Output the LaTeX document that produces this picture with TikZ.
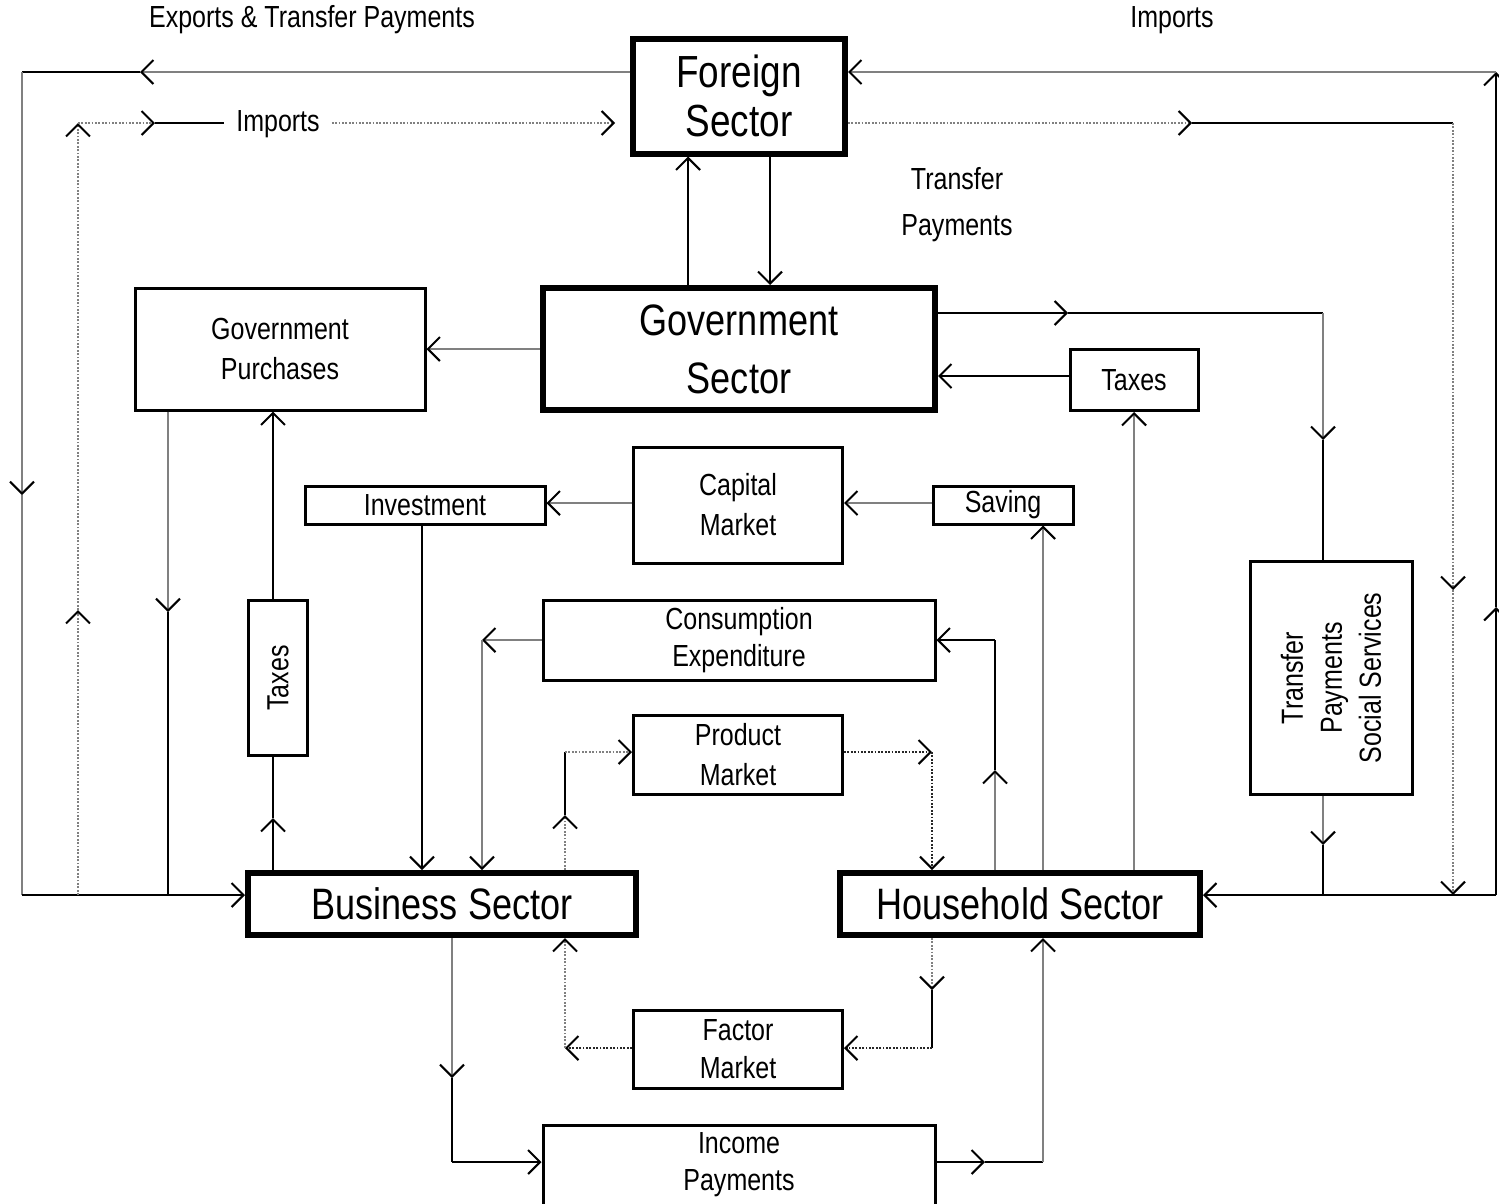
\documentclass[tikz,border=0pt]{standalone}
\usepackage{fontspec}
\setmainfont{Liberation Sans}[FakeStretch=0.82]
\usetikzlibrary{arrows.meta}
\begin{document}
\begin{tikzpicture}[x=1pt,y=-1pt,
  thickbox/.style={draw,line width=6pt,inner sep=0pt,align=center,font=\fontsize{44}{54}\selectfont},
  thinbox/.style={draw,line width=3pt,inner sep=0pt,align=center,font=\fontsize{30.5}{40}\selectfont},
  lbl/.style={inner sep=0pt,align=center,font=\fontsize{30.5}{46}\selectfont},
  line/.style={line width=2.3pt,black},
  gline/.style={line width=2.6pt,black!50},
  dline/.style={line width=2.4pt,black!50,dash pattern=on 1.8pt off 1.6pt},
  dlineb/.style={line width=2.4pt,black!85,dash pattern=on 1.8pt off 1.6pt},
  arr/.style={-{Straight Barb[length=12pt,width=24pt,line width=2.1pt,color=black]}}]
\useasboundingbox (0,0) rectangle (1499,1203);
\fill[white] (0,0) rectangle (1499,1203);

% ---------- nodes ----------
\node[thickbox,minimum width=212,minimum height=115,font=\fontsize{45}{49}\selectfont] (FS) at (739,96) {Foreign\\Sector};
\node[thickbox,minimum width=392,minimum height=122,font=\fontsize{44}{58}\selectfont] (GS) at (739,349) {Government\\Sector};
\node[thinbox,minimum width=290,minimum height=122] (GP) at (280,349) {Government\\Purchases};
\node[thinbox,minimum width=128,minimum height=61] (TX1) at (1134,380) {Taxes};
\node[thinbox,minimum width=209,minimum height=116] (CM) at (738,505) {Capital\\Market};
\node[thinbox,minimum width=240,minimum height=38] (INV) at (425,505) {Investment};
\node[thinbox,minimum width=140,minimum height=38] (SAV) at (1003,505) {\raisebox{-3pt}{Saving}};
\node[thinbox,minimum width=392,minimum height=80,font=\fontsize{30.5}{37}\selectfont] (CE) at (739,640) {Consumption\\Expenditure};
\node[thinbox,minimum width=209,minimum height=79] (PM) at (738,755) {Product\\Market};
\node[thinbox,minimum width=59,minimum height=155] (TX2) at (278,678) {};
\node[lbl,rotate=90] (TX2t) at (TX2.center) {Taxes};
\node[thinbox,minimum width=162,minimum height=233] (TP) at (1331,678) {};
\node[lbl,rotate=90,font=\fontsize{30.5}{39}\selectfont] (TPt) at (TP.center) {Transfer\\Payments\\Social Services};
\node[thickbox,minimum width=388,minimum height=62] (BS) at (442,904) {Business Sector};
\node[thickbox,minimum width=360,minimum height=62] (HS) at (1020,904) {Household Sector};
\node[thinbox,minimum width=209,minimum height=78,font=\fontsize{30.5}{38}\selectfont] (FM) at (738,1049) {Factor\\Market};
\node[thinbox,minimum width=392,minimum height=80,font=\fontsize{30.5}{37}\selectfont] (IP) at (739,1165) {Income\\Payments};

\node[lbl] (EX) at (312,20) {Exports \& Transfer Payments};
\node[lbl] (IMR) at (1172,20) {Imports};
\node[lbl,inner xsep=12pt] (IML) at (278,124) {Imports};
\node[lbl] (TRP) at (957,205) {Transfer\\Payments};

% ---------- coordinates ----------
\coordinate (c1) at (140,72);  \coordinate (c2) at (22,72);
\coordinate (c3) at (22,495);  \coordinate (c4) at (22,895);
\coordinate (d0) at (78,895);  \coordinate (d1) at (78,610);
\coordinate (d2) at (78,123);  \coordinate (d3) at (155,123);
\coordinate (d4) at (615,123);
\coordinate (r1) at (1496,895); \coordinate (r2) at (1496,607);
\coordinate (r3) at (1496,72);
\coordinate (f1) at (1192,123); \coordinate (f2) at (1453,123);
\coordinate (f3) at (1453,590); \coordinate (f4) at (1453,895);
\coordinate (g1) at (688,220);  \coordinate (g2) at (770,220);
\coordinate (t1) at (1000,376);
\coordinate (s1) at (1043,700);
\coordinate (m1) at (890,503);
\coordinate (i1) at (422,700);
\coordinate (p1) at (168,612);  \coordinate (p2) at (168,895);
\coordinate (q1) at (273,818);
\coordinate (h1) at (995,770);  \coordinate (h2) at (995,640);
\coordinate (k1) at (482,640);
\coordinate (u1) at (565,815);  \coordinate (u2) at (565,752);
\coordinate (v1) at (932,752);
\coordinate (w1) at (932,990);  \coordinate (w2) at (932,1048);
\coordinate (z1) at (565,1048);
\coordinate (b1) at (452,1078); \coordinate (b2) at (452,1162);
\coordinate (o1) at (985,1162); \coordinate (o2) at (1043,1162);
\coordinate (a1) at (1068,313); \coordinate (a2) at (1323,313);
\coordinate (a3) at (1323,440); \coordinate (a4) at (1323,845);
\coordinate (a5) at (1323,895);

% ---------- exports (left loop) ----------
\draw[gline,arr] (FS.west |- c1) -- (c1);
\draw[line] (c1) -- (c2);
\draw[gline,arr] (c2) -- (c3);
\draw[gline] (c3) -- (c4);
\draw[line,arr] (c4) -- (BS.west |- c4);

% ---------- imports (left, dotted) ----------
\draw[dline,arr] (d0) -- (d1);
\draw[dline,arr] (d1) -- (d2);
\draw[dline,arr] (d2) -- (d3);
\draw[line] (d3) -- (IML.west |- d3);
\draw[dline,arr] (IML.east |- d3) -- (d4);

% ---------- imports (right loop) ----------
\draw[line,arr] (r1) -- (HS.east |- r1);
\draw[line,arr] (r1) -- (r2);
\draw[line,arr] (r2) -- (r3);
\draw[gline,arr] (r3) -- (FS.east |- r3);

% ---------- foreign -> right dotted ----------
\draw[dline,arr] (FS.east |- f1) -- (f1);
\draw[line] (f1) -- (f2);
\draw[dline,arr] (f2) -- (f3);
\draw[dline,arr] (f3) -- (f4);

% ---------- government <-> foreign ----------
\draw[line,arr] (GS.north -| g1) -- (FS.south -| g1);
\draw[line,arr] (FS.south -| g2) -- (GS.north -| g2);

% ---------- government ----------
\draw[gline,arr] (GS.west) -- (GP.east);
\draw[line,arr] (TX1.west |- t1) -- (GS.east |- t1);
\draw[gline,arr] (HS.north -| TX1.south) -- (TX1.south);
\draw[line,arr] (GS.east |- a1) -- (a1);
\draw[line] (a1) -- (a2);
\draw[gline,arr] (a2) -- (a3);
\draw[line] (a3) -- (TP.north -| a3);
\draw[gline,arr] (TP.south -| a4) -- (a4);
\draw[line] (a4) -- (a5);

% ---------- capital market ----------
\draw[gline,arr] (HS.north -| s1) -- (SAV.south -| s1);
\draw[gline,arr] (SAV.west |- m1) -- (CM.east |- m1);
\draw[gline,arr] (CM.west |- m1) -- (INV.east |- m1);
\draw[line,arr] (INV.south -| i1) -- (BS.north -| i1);

% ---------- government purchases / taxes ----------
\draw[gline,arr] (GP.south -| p1) -- (p1);
\draw[line] (p1) -- (p2);
\draw[line,arr] (BS.north -| q1) -- (q1);
\draw[line] (q1) -- (TX2.south -| q1);
\draw[line,arr] (TX2.north -| q1) -- (GP.south -| q1);

% ---------- consumption ----------
\draw[gline,arr] (HS.north -| h1) -- (h1);
\draw[line] (h1) -- (h2);
\draw[line,arr] (h2) -- (CE.east |- h2);
\draw[gline,arr] (CE.west |- k1) -- (k1);
\draw[gline,arr] (k1) -- (BS.north -| k1);

% ---------- product market ----------
\draw[dline,arr] (BS.north -| u1) -- (u1);
\draw[line] (u1) -- (u2);
\draw[dline,arr] (u2) -- (PM.west |- u2);
\draw[dlineb,arr] (PM.east |- v1) -- (v1);
\draw[dlineb,arr] (v1) -- (HS.north -| v1);

% ---------- factor market ----------
\draw[dline,arr] (HS.south -| w1) -- (w1);
\draw[line] (w1) -- (w2);
\draw[dlineb,arr] (w2) -- (FM.east |- w2);
\draw[dlineb,arr] (FM.west |- z1) -- (z1);
\draw[dline,arr] (z1) -- (BS.south -| z1);

% ---------- income payments ----------
\draw[gline,arr] (BS.south -| b1) -- (b1);
\draw[line] (b1) -- (b2);
\draw[line,arr] (b2) -- (IP.west |- b2);
\draw[line,arr] (IP.east |- o1) -- (o1);
\draw[line] (o1) -- (o2);
\draw[gline,arr] (o2) -- (HS.south -| o2);
\end{tikzpicture}
\end{document}
